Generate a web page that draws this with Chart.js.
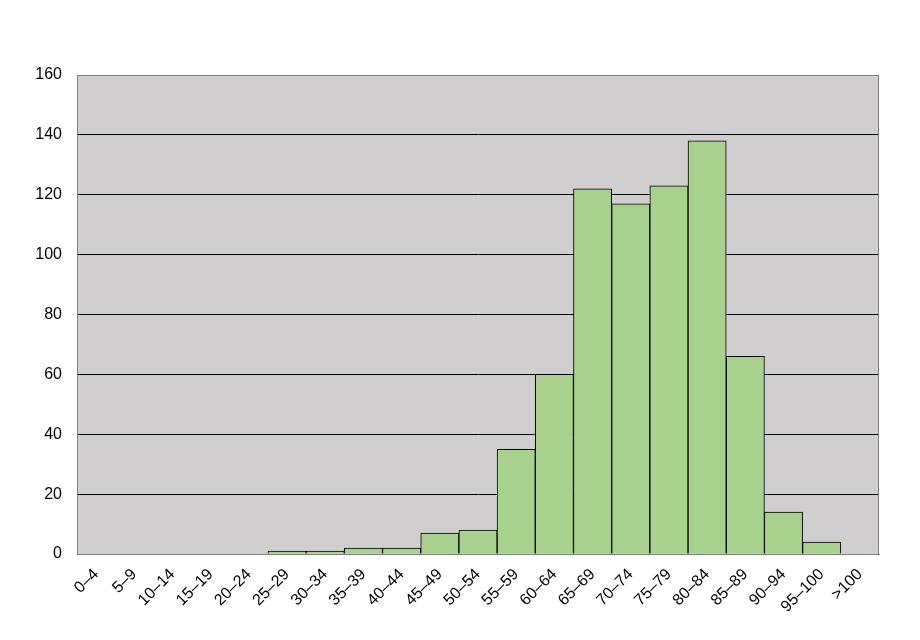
<!DOCTYPE html>
<html>
<head>
<meta charset="utf-8">
<script src="https://cdn.jsdelivr.net/npm/chart.js@4"></script>
<style>
  html, body { margin: 0; padding: 0; background: #fff; }
  #wrap { width: 920px; height: 640px; }
</style>
</head>
<body>
<div id="wrap"><canvas id="histo"></canvas></div>
<script>
// classes de notes et effectifs
const classes = ['0~4', '5~9', '10~14', '15~19', '20~24', '25~29', '30~34', '35~39', '40~44', '45~49',
  '50~54', '55~59', '60~64', '65~69', '70~74', '75~79', '80~84', '85~89', '90~94', '95~100', '>100'];
const effectifs = [0, 0, 0, 0, 0, 1, 1, 2, 2, 7, 8, 35, 60, 122, 117, 123, 138, 66, 14, 4, 0];
const yTicks = [0, 20, 40, 60, 80, 100, 120, 140, 160];

// fond gris de la zone de tracé + cadre
const fondZone = {
  id: 'fondZone',
  beforeDraw(chart) {
    const { ctx, chartArea: a } = chart;
    ctx.save();
    ctx.fillStyle = '#D0CECF';
    ctx.fillRect(a.left, a.top, a.right - a.left, a.bottom - a.top);
    ctx.restore();
  },
  afterDraw(chart) {
    const { ctx, chartArea: a } = chart;
    ctx.save();
    ctx.strokeStyle = '#808080';
    ctx.lineWidth = 1;
    ctx.strokeRect(a.left + 0.5, a.top + 0.5, a.right - a.left - 1, a.bottom - a.top);
    ctx.restore();
  }
};

const labelsAffiches = classes.map(c => c.replace(/~/g, '\u2013'));

new Chart(document.getElementById('histo').getContext('2d'), {
  type: 'bar',
  data: {
    labels: labelsAffiches,
    datasets: [{
      data: effectifs,
      backgroundColor: '#A9D18E',
      borderColor: '#000000',
      borderWidth: 1,
      categoryPercentage: 1,
      barPercentage: 1
    }]
  },
  options: {
    responsive: true,
    maintainAspectRatio: false,
    animation: false,
    layout: { padding: { top: 75, right: 41, left: 0, bottom: 0 } },
    plugins: { legend: { display: false }, tooltip: { enabled: false } },
    scales: {
      x: {
        grid: { display: false, drawTicks: false },
        border: { color: '#808080' },
        ticks: {
          color: '#000',
          font: { family: 'Liberation Sans', size: 16 },
          minRotation: 45,
          maxRotation: 45,
          autoSkip: false,
          padding: 11
        },
        afterFit(scale) { scale.height = 86; }
      },
      y: {
        min: 0,
        max: 160,
        afterBuildTicks(scale) { scale.ticks = yTicks.map(v => ({ value: v })); },
        grid: { color: '#000000', drawTicks: false },
        border: { color: '#404040' },
        ticks: {
          color: '#000',
          font: { family: 'Liberation Sans', size: 16 },
          padding: 15
        },
        afterFit(scale) { scale.width = 77; }
      }
    }
  },
  plugins: [fondZone]
});
</script>
</body>
</html>
